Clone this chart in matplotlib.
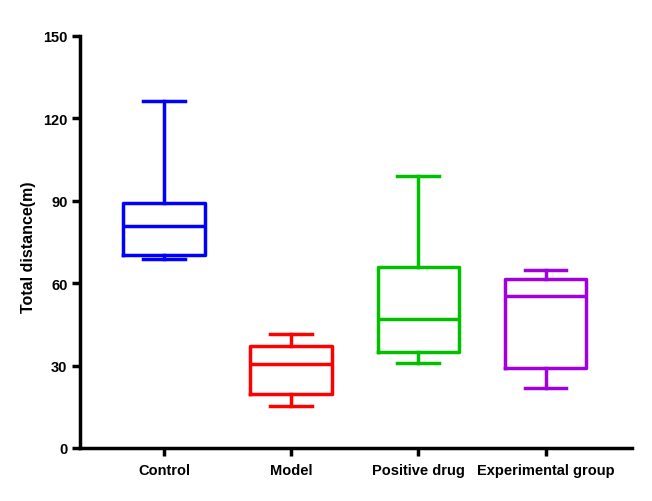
import matplotlib
matplotlib.use("Agg")
import matplotlib.pyplot as plt

plt.rcParams['font.family'] = ['Liberation Sans', 'DejaVu Sans']

categories = ["Control", "Model", "Positive drug", "Experimental group"]
mins    = [68.8, 15.3, 30.9, 21.8]
q1s     = [70.3, 19.7, 34.9, 29.1]
medians = [80.8, 30.6, 47.0, 55.3]
q3s     = [89.3, 37.1, 65.9, 61.5]
maxs    = [126.3, 41.5, 99.0, 64.8]
colors  = ["#0000FF", "#FF0000", "#00C000", "#A000E0"]
yticks  = [0, 30, 60, 90, 120, 150]

fig = plt.figure(figsize=(6.52, 5.02), dpi=100)
ax = fig.add_axes([80/652, 53/502, 552/652, 412/502])

for i, name in enumerate(categories):
    stats = [dict(label=name, whislo=mins[i], q1=q1s[i], med=medians[i],
                  q3=q3s[i], whishi=maxs[i], fliers=[])]
    c = colors[i]
    lw = 2.5
    ax.bxp(stats, positions=[i], widths=0.64, capwidths=0.33, showfliers=False,
           boxprops=dict(color=c, linewidth=lw),
           whiskerprops=dict(color=c, linewidth=lw),
           capprops=dict(color=c, linewidth=lw),
           medianprops=dict(color=c, linewidth=lw),
           manage_ticks=False)

ax.set_xlim(-0.66, 3.68)
ax.set_ylim(0, 150)
ax.set_yticks(yticks)
ax.set_xticks(range(len(categories)))
ax.set_xticklabels(categories, fontsize=10.5, fontweight='bold')
ax.set_yticklabels([str(t) for t in yticks], fontsize=10.5, fontweight='bold')
ax.set_ylabel("Total distance(m)", fontsize=11.5, fontweight='bold')
ax.yaxis.set_label_coords(-0.079, 0.49)

for s in ['top', 'right']:
    ax.spines[s].set_visible(False)
for s in ['left', 'bottom']:
    ax.spines[s].set_linewidth(2.5)
ax.tick_params(axis='y', direction='out', length=6, width=2.5, pad=3)
ax.tick_params(axis='x', direction='out', length=6, width=2.5, pad=5)

fig.savefig("out.png", dpi=100)
